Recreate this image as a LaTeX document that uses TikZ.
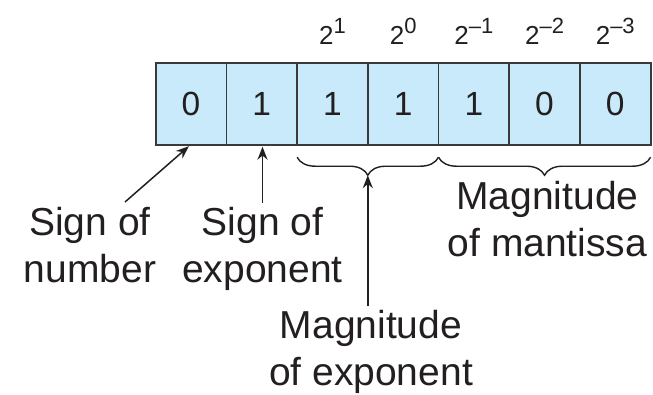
\documentclass[tikz,border=0pt]{standalone}
\usepackage{fontspec}
\setmainfont{Liberation Sans}
\usepackage{xcolor}
\usepackage{tikz}
\usetikzlibrary{arrows.meta,positioning,calc,decorations.pathreplacing}
\definecolor{cellblue}{HTML}{C8EAFA}
\definecolor{edgegray}{HTML}{3A3A3A}
\definecolor{inkblack}{HTML}{231F20}
\newcommand{\pw}[1]{2\raisebox{11pt}{\fontsize{22}{22}\selectfont #1}}
\tikzstyle{bit} = [rectangle, draw=edgegray, line width=1.8pt, fill=cellblue, minimum width=70.7pt, minimum height=82.5pt, inner sep=0pt, outer sep=0pt, text=inkblack, font=\fontsize{33.5}{36}\selectfont]
\tikzstyle{pow} = [inner sep=0pt, text=inkblack, font=\fontsize{26}{28}\selectfont]
\tikzstyle{lbl} = [align=center, inner sep=0pt, outer sep=5pt, text=inkblack, font=\fontsize{39}{47}\selectfont]
\tikzstyle{arrow} = [line width=1.5pt, draw=inkblack, -{Stealth[length=13pt,width=10pt]}]
\tikzstyle{brace} = [line width=1.4pt, draw=inkblack, decorate, decoration={brace, amplitude=18pt}]

\begin{document}
\begin{tikzpicture}[x=1pt, y=-1pt]
    \useasboundingbox (0,0) rectangle (653,394);
    % register cells
    \node[bit, anchor=north west] (b1) at (155.7,62.7) {0};
    \node[bit, right=0pt of b1] (b2) {1};
    \node[bit, right=0pt of b2] (b3) {1};
    \node[bit, right=0pt of b3] (b4) {1};
    \node[bit, right=0pt of b4] (b5) {1};
    \node[bit, right=0pt of b5] (b6) {0};
    \node[bit, right=0pt of b6] (b7) {0};
    % weights
    \node[pow, above=18.7pt of b3.north, anchor=base] (p3) {\pw{1}};
    \node[pow, above=18.7pt of b4.north, anchor=base] (p4) {\pw{0}};
    \node[pow, above=18.7pt of b5.north, anchor=base] (p5) {\pw{--1}};
    \node[pow, above=18.7pt of b6.north, anchor=base] (p6) {\pw{--2}};
    \node[pow, above=18.7pt of b7.north, anchor=base] (p7) {\pw{--3}};
    % braces
    \draw[brace] ([yshift=-12pt]b5.south west) -- ([yshift=-12pt]b3.south west);
    \draw[brace] ([yshift=-12pt]b7.south east) -- ([yshift=-12pt]b5.south west);
    \coordinate (t1) at ([yshift=-30pt]b3.south east);
    % labels
    \node[lbl, anchor=north] (sn) at (90,202.5) {Sign of\\number};
    \node[lbl, anchor=north] (se) at (262.5,202.5) {Sign of\\exponent};
    \node[lbl, anchor=north] (mm) at (547.5,176.5) {Magnitude\\of mantissa};
    \node[lbl, anchor=north] (me) at (371,305.5) {Magnitude\\of exponent};
    \coordinate (snt) at (125,202);
    % pointers
    \draw[arrow, shorten >=1.5pt] (snt) -- ([xshift=-1pt]b1.south);
    \draw[arrow, shorten >=1.5pt] (se.north) -- (se.north |- b2.south);
    \draw[arrow] (me.north -| t1) -- (t1);
\end{tikzpicture}
\end{document}
